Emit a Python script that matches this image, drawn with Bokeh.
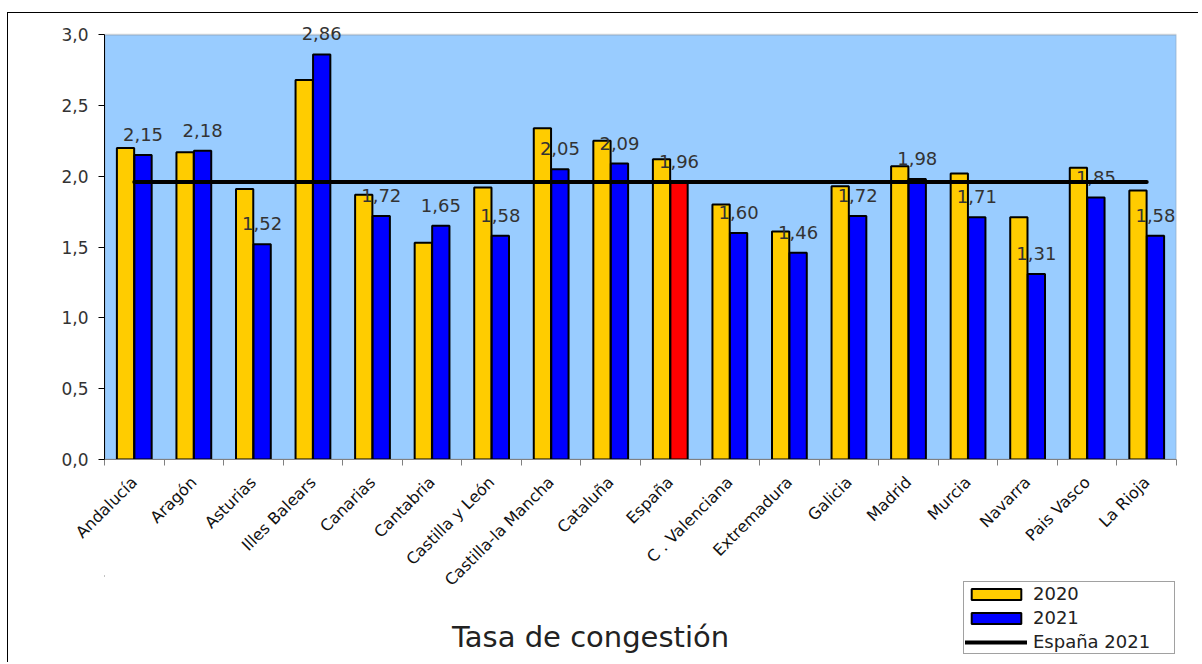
import math
import numpy as np
from bokeh.plotting import figure
from bokeh.layouts import column
from bokeh.models import (Range1d, FixedTicker, CustomJSTickFormatter, Legend,
                          LegendItem, Label, ColumnDataSource, BoxAnnotation)
from bokeh.embed import file_html
from bokeh.resources import INLINE
from bokeh.core.properties import value

regions = ["Andalucía", "Aragón", "Asturias", "Illes Balears", "Canarias",
           "Cantabria", "Castilla y León", "Castilla-la Mancha", "Cataluña",
           "España", "C . Valenciana", "Extremadura", "Galicia", "Madrid",
           "Murcia", "Navarra", "Pais Vasco", "La Rioja"]
tasa_2020 = [2.20, 2.17, 1.91, 2.68, 1.87, 1.53, 1.92, 2.34, 2.25, 2.12,
             1.80, 1.61, 1.93, 2.07, 2.02, 1.71, 2.06, 1.90]
tasa_2021 = [2.15, 2.18, 1.52, 2.86, 1.72, 1.65, 1.58, 2.05, 2.09, 1.96,
             1.60, 1.46, 1.72, 1.98, 1.71, 1.31, 1.85, 1.58]
espana_2021 = 1.96
y_ticks = [0.0, 0.5, 1.0, 1.5, 2.0, 2.5, 3.0]
y_max = 3.0
title_text = "Tasa de congestión"
legend_labels = ["2020", "2021", "España 2021"]

YELLOW = "#FFCC00"
BLUE = "#0000FF"
RED = "#FF0000"
PLOT_BG = "#99CCFF"
FONT = "DejaVu Sans"

n = len(regions)
centers = np.arange(n) + 0.5
bounds = list(np.arange(n + 1).astype(float))
off = 0.147
bw = 0.29

colors_2021 = [RED if r == "España" else BLUE for r in regions]
src = ColumnDataSource(dict(
    x20=centers - off, x21=centers + off, v20=tasa_2020, v21=tasa_2021,
    c21=colors_2021,
    lab=[f"{v:.2f}".replace(".", ",") for v in tasa_2021],
))

W = 1190
# a little headroom above 3,0 so the top value label is not clipped
p = figure(width=W, height=597, x_range=Range1d(0, n),
           y_range=Range1d(0, y_max + 0.1),
           output_backend="svg", toolbar_location=None,
           min_border_left=96, min_border_top=7, min_border_right=22,
           min_border_bottom=151,
           background_fill_color="white", border_fill_color="white",
           outline_line_color=None)

p.xgrid.visible = False
p.ygrid.visible = False

plot_area = BoxAnnotation(left=0, right=n, bottom=0, top=y_max,
                          fill_color=PLOT_BG, fill_alpha=1,
                          line_color="#808080", line_width=2, level="underlay")
p.add_layout(plot_area)

r20 = p.vbar(x="x20", top="v20", bottom=0, width=bw, source=src,
             fill_color=YELLOW, line_color="black", line_width=2)
r21 = p.vbar(x="x21", top="v21", bottom=0, width=bw, source=src,
             fill_color="c21", line_color="black", line_width=2)
p.text(x="x21", y="v21", text="lab", source=src, text_align="center",
       text_baseline="bottom", y_offset=-14, text_font=value(FONT),
       text_font_size="18px", text_color="#333333")
rl = p.line(x=[centers[0], centers[-1]], y=[espana_2021, espana_2021],
            line_color="black", line_width=4, line_cap="round")

# y axis
ya = p.yaxis[0]
ya.ticker = FixedTicker(ticks=y_ticks)
ya.bounds = (0, y_max)
ya.formatter = CustomJSTickFormatter(code="return tick.toFixed(1).replace('.', ',')")
ya.axis_line_color = "black"
ya.major_tick_line_color = "black"
ya.major_tick_out = 6
ya.major_tick_in = 0
ya.minor_tick_line_color = None
ya.major_label_text_font = FONT
ya.major_label_text_font_size = "17px"
ya.major_label_text_color = "#333333"
ya.major_label_standoff = 10

# x axis
xa = p.xaxis[0]
xa.ticker = FixedTicker(ticks=list(centers), minor_ticks=bounds)
xa.formatter = CustomJSTickFormatter(args=dict(names=regions),
                                     code="return names[Math.floor(tick)]")
xa.axis_line_color = "#808080"
xa.major_tick_line_color = None
xa.minor_tick_line_color = "#808080"
xa.minor_tick_out = 6
xa.minor_tick_in = 0
xa.major_label_orientation = math.pi / 4
xa.major_label_text_font = FONT
xa.major_label_text_font_size = "16px"
xa.major_label_text_color = "#111111"
xa.major_label_standoff = 14

# footer figure (title + legend), overlapping the bottom of the chart.
# Its frame is aligned with the chart frame, so x data units = page pixels.
H2 = 87
p2 = figure(width=W, height=H2, x_range=Range1d(104, 1176), y_range=Range1d(H2, 0),
            output_backend="svg", toolbar_location=None,
            x_axis_location=None, y_axis_location=None, min_border=0,
            background_fill_alpha=0, border_fill_alpha=0,
            outline_line_color=None)
p2.grid.visible = False
p2.styles = {"margin-top": "-35px"}

title = Label(x=590, y=61, text=title_text,
              text_align="center", text_baseline="alphabetic",
              text_font=FONT, text_font_size="29px", text_color="#222222")
p2.add_layout(title)

# off-screen proxies so the legend shows the same styles as the chart
d20 = p2.vbar(x=[-100], top=[-100], width=1, fill_color=YELLOW,
              line_color="black", line_width=2)
d21 = p2.vbar(x=[-100], top=[-100], width=1, fill_color=BLUE,
              line_color="black", line_width=2)
dl = p2.line(x=[-100, -99], y=[-100, -100], line_color="black",
             line_width=4, line_cap="round")

legend = Legend(items=[LegendItem(label=legend_labels[0], renderers=[d20]),
                       LegendItem(label=legend_labels[1], renderers=[d21]),
                       LegendItem(label=legend_labels[2], renderers=[dl])],
                location=(859, 8), orientation="vertical",
                border_line_color="#444444", border_line_width=1,
                background_fill_color="white", background_fill_alpha=1,
                glyph_width=62, glyph_height=14, label_height=20,
                label_width=140, spacing=3,
                padding=1, margin=0, label_standoff=6,
                label_text_font=FONT, label_text_font_size="18px",
                label_text_color="#222222")
p2.add_layout(legend, "center")

layout = column(p, p2, spacing=0)
layout.styles = {"border-left": "1px solid black", "border-top": "1px solid black",
                 "margin-left": "7px", "margin-top": "12px"}

open("out.html", "w").write(file_html(layout, INLINE))
